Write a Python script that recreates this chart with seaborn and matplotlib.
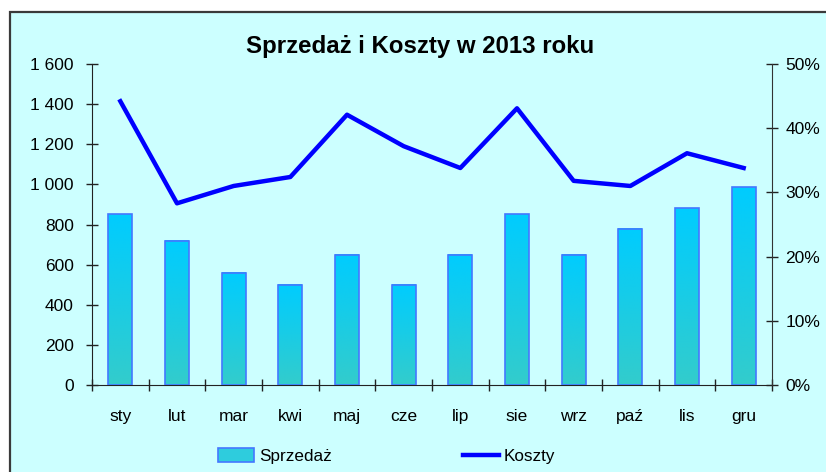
import numpy as np
import pandas as pd
import matplotlib
matplotlib.use('Agg')
import matplotlib.pyplot as plt
from matplotlib.patches import Rectangle, Patch
from matplotlib.lines import Line2D
from matplotlib.ticker import FuncFormatter, FixedLocator
from matplotlib.colors import LinearSegmentedColormap
import seaborn as sns

# data
months = ['sty', 'lut', 'mar', 'kwi', 'maj', 'cze', 'lip', 'sie', 'wrz', 'paź', 'lis', 'gru']
sprzedaz = [850, 720, 560, 500, 650, 500, 650, 850, 650, 780, 880, 985]
koszty = [44.2, 28.3, 31.0, 32.4, 42.1, 37.2, 33.8, 43.1, 31.8, 31.0, 36.1, 33.8]

plt.rcParams['font.family'] = ['Liberation Sans', 'DejaVu Sans']

df = pd.DataFrame({'Miesiac': months, 'Sprzedaz': sprzedaz, 'Koszty': koszty, 'pos': np.arange(len(months))})

bg = '#CCFFFF'
fig = plt.figure(figsize=(8.26, 4.72), dpi=100)
fig.patch.set_facecolor('white')
# chart area frame (Excel style)
fig.patches.append(Rectangle((10 / 826, -0.02), 1.0, 1 - 12 / 472 + 0.02, transform=fig.transFigure,
                             facecolor=bg, edgecolor='#3a3a3a', linewidth=1.6, zorder=-10))

ax = fig.add_axes([92 / 826, 1 - 385 / 472, (772 - 92) / 826, (385 - 64) / 472])
ax.set_facecolor('none')

sns.barplot(data=df, x='Miesiac', y='Sprzedaz', ax=ax, width=0.42, color='#33CCCC',
            edgecolor='#4477FF', linewidth=1.2, saturation=1, zorder=3)

# vertical gradient fill in every bar
cmap = LinearSegmentedColormap.from_list('g', ['#33CCCC', '#00CCFF'])
grad = np.linspace(0, 1, 256).reshape(-1, 1)
for p in ax.patches:
    x0, y0 = p.get_x(), p.get_y()
    w, h = p.get_width(), p.get_height()
    p.set_facecolor('none')
    p.set_zorder(4)
    ax.imshow(grad, cmap=cmap, origin='lower', extent=(x0, x0 + w, y0, y0 + h),
              aspect='auto', zorder=3, interpolation='bilinear')

ax.set_xlim(-0.5, 11.5)
ax.set_ylim(0, 1600)
ax.set_yticks(np.arange(0, 1601, 200))
ax.yaxis.set_major_formatter(FuncFormatter(lambda v, _: f'{int(v):,}'.replace(',', ' ')))
ax.set_xlabel('')
ax.set_ylabel('')
ax.xaxis.set_minor_locator(FixedLocator(np.arange(-0.5, 12, 1)))
ax.tick_params(axis='x', which='major', length=0, pad=17, labelsize=12.5)
ax.tick_params(axis='x', which='minor', direction='inout', length=9, width=1, color='#222222')
ax.tick_params(axis='y', direction='inout', length=9, width=1, pad=8.5, labelsize=12.5, color='#222222')
for s in ['top', 'right']:
    ax.spines[s].set_visible(False)
ax.spines['left'].set_color('#222222')
ax.spines['bottom'].set_color('#222222')

ax2 = ax.twinx()
sns.lineplot(data=df, x='pos', y='Koszty', ax=ax2, color='#0000FF', linewidth=3.2, zorder=5)
ax2.set_ylim(0, 50)
ax2.set_yticks(np.arange(0, 51, 10))
ax2.yaxis.set_major_formatter(FuncFormatter(lambda v, _: f'{int(v)}%'))
ax2.set_ylabel('')
ax2.set_xlabel('')
ax2.tick_params(axis='y', direction='inout', length=9, width=1, pad=5, labelsize=12.5, color='#222222')
for s in ['top', 'left', 'bottom']:
    ax2.spines[s].set_visible(False)
ax2.spines['right'].set_color('#333333')
ax2.set_xlim(-0.5, 11.5)

fig.text(420 / 826, 1 - 47 / 472, 'Sprzedaż i Koszty w 2013 roku', ha='center', va='center',
         fontsize=17.3, fontweight='bold')

handles = [Patch(facecolor='#2ECCDD', edgecolor='#4477FF', linewidth=1.2),
           Line2D([0], [0], color='#0000FF', linewidth=3.2)]
fig.legend(handles, ['Sprzedaż', 'Koszty'], loc='center', bbox_to_anchor=(0.468, 1 - 456 / 472),
           ncol=2, frameon=False, fontsize=12.3, handlelength=2.1, handletextpad=0.3,
           columnspacing=7.7, handleheight=0.9)

fig.savefig('out.png', dpi=100, facecolor='white')
